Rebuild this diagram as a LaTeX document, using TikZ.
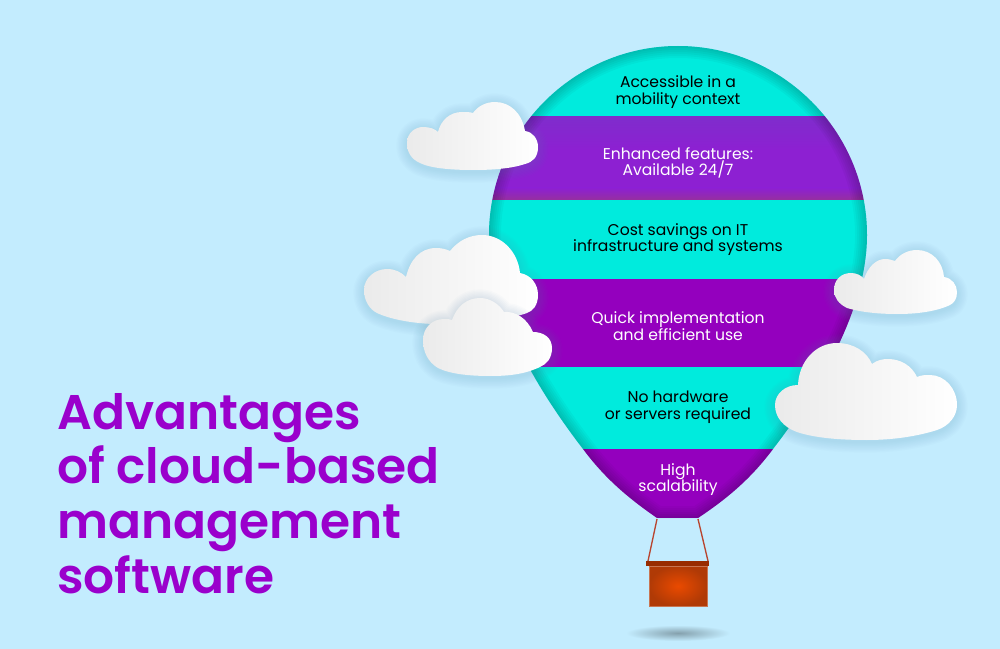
\documentclass[tikz,border=0pt]{standalone}
\usepackage{fontspec}
\setmainfont{Poppins}
\newfontfamily\titlefont{Poppins SemiBold}
\definecolor{skybg}{HTML}{C3ECFE}
\definecolor{turq}{HTML}{00EBDD}
\definecolor{violet}{HTML}{9400BE}
\definecolor{violettop}{HTML}{7F2CCC}
\definecolor{violetmid}{HTML}{8D20D2}
\definecolor{violetlow}{HTML}{96309F}
\definecolor{titlecol}{HTML}{9A00CC}
\definecolor{basket}{HTML}{B03A06}
\definecolor{basketmid}{HTML}{EA4A00}
\definecolor{rimcol}{HTML}{982C00}
\definecolor{ropecol}{HTML}{B8452F}
\definecolor{cloudshade}{HTML}{5B8FAF}
\tikzset{
 darklabel/.style={align=center, text=black, font=\fontsize{11.7}{12.5}\selectfont},
 lightlabel/.style={align=center, text=white, font=\fontsize{11.7}{12.5}\selectfont},
 cloudfill/.style={left color=black!8, right color=white},
 ropeline/.style={draw=ropecol, line width=1pt}
}
\def\balloonpath{(678,46) .. controls (782,46) and (867,131) .. (867,235) .. controls (867,300) and (830,375) .. (773,449) .. controls (750,480) and (725,500) .. (698,518) -- (657,518) .. controls (631,500) and (606,480) .. (583,449) .. controls (526,375) and (489,300) .. (489,235) .. controls (489,131) and (574,46) .. (678,46) -- cycle}
\newcommand{\cloudat}[1]{
 \foreach \w in {2,4,...,16}
 {
     \draw[cloudshade, opacity=.022, line width=\w pt, line join=round, yshift=-1.5pt]#1;
 }
 \shade[cloudfill]#1;
}
\begin{document}
\begin{tikzpicture}[x=.75pt, y=-.75pt]
 \useasboundingbox(0,0)rectangle(1000,649);
 \fill[skybg](0,0)rectangle(1000,649);
 \shade[inner color=black!32!skybg, outer color=skybg, draw=none](678,633)ellipse[x radius=52, y radius=8];
 \begin{scope}
 \clip \balloonpath;
 \fill[turq](480,40)rectangle(880,117);
 \shade[top color=violettop, bottom color=violetmid](480,117)rectangle(880,150);
 \fill[violetmid](480,150)rectangle(880,188);
 \shade[top color=violetmid, bottom color=violetlow](480,188)rectangle(880,200);
 \fill[turq](480,200)rectangle(880,279);
 \fill[violet](480,279)rectangle(880,367);
 \fill[turq](480,367)rectangle(880,449);
 \fill[violet](480,449)rectangle(880,518);
 \foreach \w in {3,6,...,18}
 {
     \draw[black, opacity=.03, line width=\w pt]\balloonpath;
 }
 \end{scope}
 \coordinate (ropeLtop) at (657,519);
 \coordinate (ropeLend) at (648,561);
 \coordinate (ropeRtop) at (698,519);
 \coordinate (ropeRend) at (708,561);
 \draw[ropeline](ropeLtop)--(ropeLend);
 \draw[ropeline](ropeRtop)--(ropeRend);
 \shade[inner color=basketmid, outer color=basket, draw=basket!70!white, line width=.4pt](649,566)rectangle(707,606);
 \fill[rimcol](646,561)rectangle(709,566);
 \cloudat{(407,143) .. controls (407,133) and (415,127) .. (423,127) .. controls (430,127) and (435,129) .. (438,132) .. controls (441,120) and (450,112) .. (462,112) .. controls (466,112) and (470,112) .. (473,113) .. controls (478,106) and (486,102) .. (495,102) .. controls (510,102) and (522,113) .. (525,131) .. controls (533,132) and (538,139) .. (538,147) .. controls (538,157) and (533,162) .. (525,164) .. controls (510,169) and (490,170) .. (473,170) .. controls (450,170) and (430,168) .. (420,163) .. controls (411,159) and (407,152) .. (407,143) -- cycle}
 \cloudat{(364,290) .. controls (364,278) and (375,269) .. (387,269) .. controls (395,269) and (401,272) .. (406,277) .. controls (410,260) and (420,248) .. (436,248) .. controls (441,248) and (446,249) .. (450,251) .. controls (458,241) and (469,235) .. (482,235) .. controls (502,235) and (518,252) .. (520,273) .. controls (531,275) and (538,284) .. (538,295) .. controls (538,305) and (533,311) .. (527,313) .. controls (505,321) and (465,324) .. (433,324) .. controls (410,323) and (390,319) .. (377,313) .. controls (369,309) and (364,300) .. (364,290) -- cycle}
 \cloudat{(423,340) .. controls (423,328) and (432,319) .. (444,319) .. controls (447,319) and (450,319) .. (452,320) .. controls (457,306) and (467,298) .. (480,298) .. controls (490,298) and (499,304) .. (504,312) .. controls (515,311) and (527,318) .. (533,332) .. controls (544,332) and (552,338) .. (552,348) .. controls (552,358) and (547,364) .. (540,367) .. controls (525,374) and (510,376) .. (490,376) .. controls (470,376) and (450,374) .. (438,368) .. controls (428,362) and (423,352) .. (423,340) -- cycle}
 \cloudat{(834,290) .. controls (834,280) and (841,273) .. (851,273) .. controls (856,273) and (861,275) .. (864,279) .. controls (868,267) and (876,259) .. (885,259) .. controls (889,259) and (892,260) .. (895,261) .. controls (900,254) and (908,250) .. (917,250) .. controls (932,250) and (943,262) .. (944,277) .. controls (952,278) and (957,285) .. (957,292) .. controls (957,299) and (954,303) .. (950,305) .. controls (935,312) and (915,314) .. (897,314) .. controls (878,314) and (860,312) .. (847,308) .. controls (839,304) and (834,298) .. (834,290) -- cycle}
 \cloudat{(775,405) .. controls (775,394) and (785,385) .. (798,385) .. controls (799,361) and (816,343) .. (837,343) .. controls (854,343) and (867,352) .. (872,364) .. controls (877,360) and (883,359) .. (888,359) .. controls (901,359) and (912,366) .. (917,377) .. controls (921,375) and (926,375) .. (930,375) .. controls (945,375) and (957,389) .. (957,405) .. controls (957,416) and (949,426) .. (937,430) .. controls (915,437) and (890,440) .. (867,440) .. controls (840,440) and (815,438) .. (797,432) .. controls (783,427) and (775,417) .. (775,405) -- cycle}
 \node[darklabel] (mobility) at (678,92) {Accessible in a\\mobility context};
 \node[lightlabel] (features) at (678,163) {Enhanced features:\\Available 24/7};
 \node[darklabel] (savings) at (678,239.5) {Cost savings on IT\\infrastructure and systems};
 \node[lightlabel] (quick) at (678,326) {Quick implementation\\and efficient use};
 \node[darklabel] (hardware) at (678,407.5) {No hardware\\or servers required};
 \node[lightlabel] (scalability) at (678,479.5) {High\\scalability};
 \node[anchor=north west, inner sep=0pt, align=left, text=titlecol, font=\fontsize{36.5}{41}\titlefont] (title) at (57,393) {Advantages\\of cloud-based\\management\\software};
\end{tikzpicture}
\end{document}
